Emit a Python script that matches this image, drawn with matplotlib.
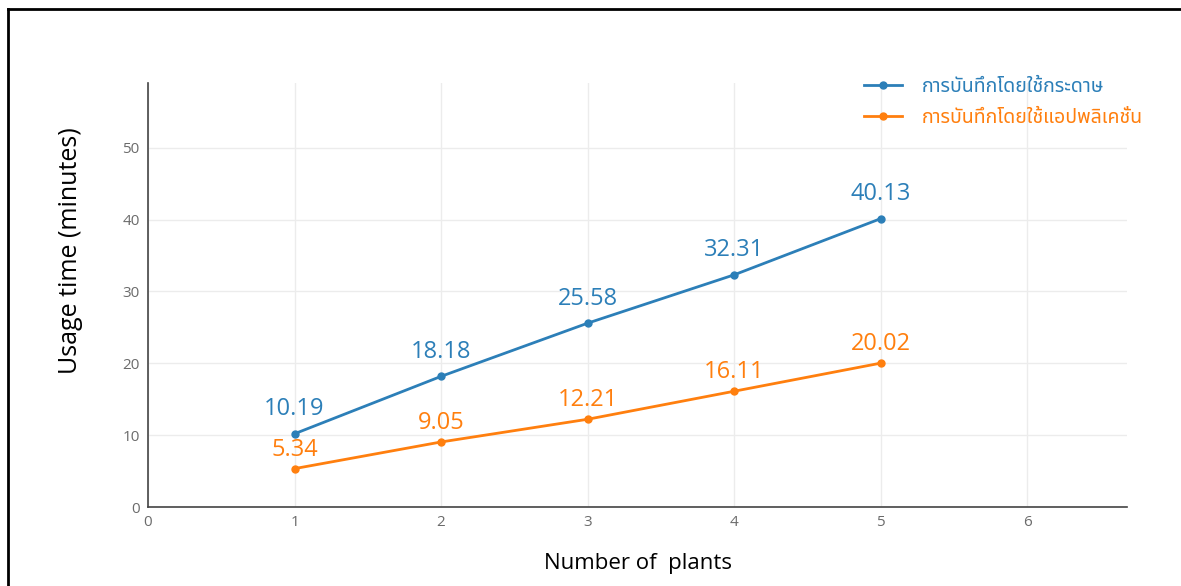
import matplotlib.pyplot as plt
from matplotlib import font_manager
from matplotlib.lines import Line2D

# Datos
plantas = [1, 2, 3, 4, 5]
tiempo_papel = [10.19, 18.18, 25.58, 32.31, 40.13]
tiempo_app = [5.34, 9.05, 12.21, 16.11, 20.02]
etiqueta_papel = "การบันทึกโดยใช้กระดาษ"
etiqueta_app = "การบันทึกโดยใช้แอปพลิเคชั่น"

azul = "#2c7fb8"
naranja = "#ff7f0e"

# Buscar una fuente con glifos tailandeses
instaladas = {f.name for f in font_manager.fontManager.ttflist}
fuente_thai = "DejaVu Sans"
for nombre in ["Noto Sans Thai", "Sarabun", "Niramit", "Prompt", "Kanit", "Mitr", "Trirong"]:
    if nombre in instaladas:
        fuente_thai = nombre
        break

plt.rcParams['font.family'] = ['Open Sans', fuente_thai, 'DejaVu Sans']

fig = plt.figure(figsize=(11.81, 5.86), dpi=100)
ax = fig.add_axes([0.1253, 0.1348, 0.829, 0.7236])

ax.plot(plantas, tiempo_papel, color=azul, lw=2, marker="o", ms=5, label=etiqueta_papel)
ax.plot(plantas, tiempo_app, color=naranja, lw=2, marker="o", ms=5, label=etiqueta_app)

# Etiquetas de valores
for x, y in zip(plantas, tiempo_papel):
    ax.annotate(f"{y:.2f}", (x, y), xytext=(0, 9), textcoords="offset points",
                ha="center", va="bottom", color=azul, fontsize=17)
for x, y in zip(plantas, tiempo_app):
    ax.annotate(f"{y:.2f}", (x, y), xytext=(0, 5), textcoords="offset points",
                ha="center", va="bottom", color=naranja, fontsize=17)

ax.set_xlim(0, 6.68)
ax.set_ylim(0, 59)
ax.set_xticks(range(0, 7))
ax.set_yticks(range(0, 60, 10))
ax.grid(True, color="#ececec", lw=1)
ax.set_axisbelow(True)
ax.tick_params(length=0, labelsize=11, labelcolor="#6b6b6b", pad=6)

for s in ["top", "right"]:
    ax.spines[s].set_visible(False)
for s in ["left", "bottom"]:
    ax.spines[s].set_color("#444444")
    ax.spines[s].set_linewidth(1.2)

ax.set_xlabel("Number of  plants", fontsize=16, labelpad=16)
ax.set_ylabel("Usage time (minutes)", fontsize=18)
ax.yaxis.set_label_coords(-0.066, 0.605)

leg = ax.legend(loc="upper left", bbox_to_anchor=(0.713, 1.055), frameon=False,
                prop={"family": [fuente_thai, "DejaVu Sans"], "size": 14, "weight": "semibold"},
                handlelength=2.0, handletextpad=1.0, labelspacing=0.55)
for txt, c in zip(leg.get_texts(), [azul, naranja]):
    txt.set_color(c)

# Marco de la figura (solo arriba e izquierda)
fig.add_artist(Line2D([0.0068, 1.0], [0.985, 0.985], color="black", lw=2, transform=fig.transFigure))
fig.add_artist(Line2D([0.0068, 0.0068], [0.0, 0.985], color="black", lw=2, transform=fig.transFigure))

fig.savefig("out.png", dpi=100)
